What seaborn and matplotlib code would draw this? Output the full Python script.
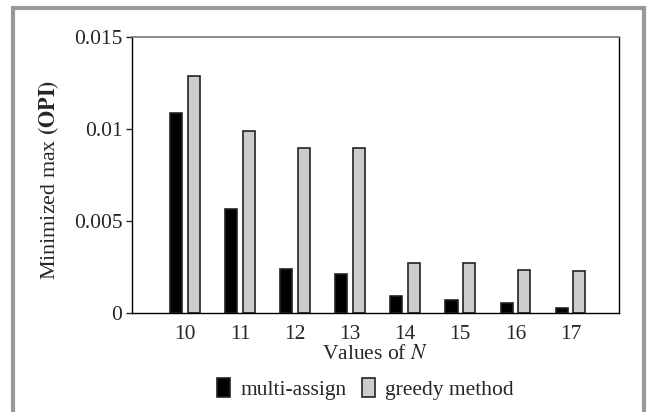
import pandas as pd
import seaborn as sns
import matplotlib.pyplot as plt
from matplotlib.patches import Rectangle

# values
n_values = ['10', '11', '12', '13', '14', '15', '16', '17']
multi_assign = [0.01083, 0.00565, 0.00237, 0.00210, 0.00092, 0.00072, 0.00053, 0.00026]
greedy_method = [0.01288, 0.00987, 0.00895, 0.00895, 0.00273, 0.00273, 0.00232, 0.00227]
series_names = ['multi-assign', 'greedy method']

df = pd.DataFrame({
    'N': n_values * 2,
    'value': multi_assign + greedy_method,
    'method': [series_names[0]] * len(n_values) + [series_names[1]] * len(n_values),
})

sns.set_style('white')
plt.rcParams['font.family'] = ['Liberation Serif', 'DejaVu Serif']
plt.rcParams['mathtext.fontset'] = 'stix'
fs = 15.5

fig = plt.figure(figsize=(6.48, 4.12), dpi=100)
ax = fig.add_axes([0.2037, 0.2403, 0.7515, 0.671])

sns.barplot(data=df, x='N', y='value', hue='method', order=n_values,
            hue_order=series_names, palette=['black', '#cccccc'],
            width=0.64, gap=0.3125, edgecolor='#222222', linewidth=1.2,
            ax=ax, legend=True)

ax.set_ylim(0, 0.015)
ax.set_xlim(-0.96, 7.88)
ax.set_yticks([0, 0.005, 0.01, 0.015])
ax.set_yticklabels(['0', '0.005', '0.01', '0.015'])
ax.tick_params(axis='y', left=True, length=4, width=1, pad=3, labelsize=fs)
ax.tick_params(axis='x', bottom=False, pad=5, labelsize=fs)

ax.set_ylabel(r'Minimized max $\mathbf{(OPI)}$', fontsize=15.8)
ax.yaxis.set_label_coords(-0.146, 0.48)
ax.set_xlabel(r'Values of $N$', fontsize=fs, labelpad=1)

for side in ['left', 'bottom', 'right']:
    ax.spines[side].set_color('black')
    ax.spines[side].set_linewidth(1)
ax.spines['top'].set_color('#777777')
ax.spines['top'].set_linewidth(1.2)

handles, labels = ax.get_legend_handles_labels()
ax.legend_.remove()
fig.legend(handles, labels, loc='center', bbox_to_anchor=(0.564, 0.056),
           ncol=2, frameon=False, fontsize=fs, handlelength=0.6,
           handleheight=1.0, handletextpad=0.5, columnspacing=0.7)

# gray frame around the figure
fig.patches.append(Rectangle((0.02, -0.05), 0.974, 1.0306, transform=fig.transFigure,
                             fill=False, edgecolor='#999999', linewidth=3))

fig.savefig('out.png', dpi=100)
plt.close(fig)
